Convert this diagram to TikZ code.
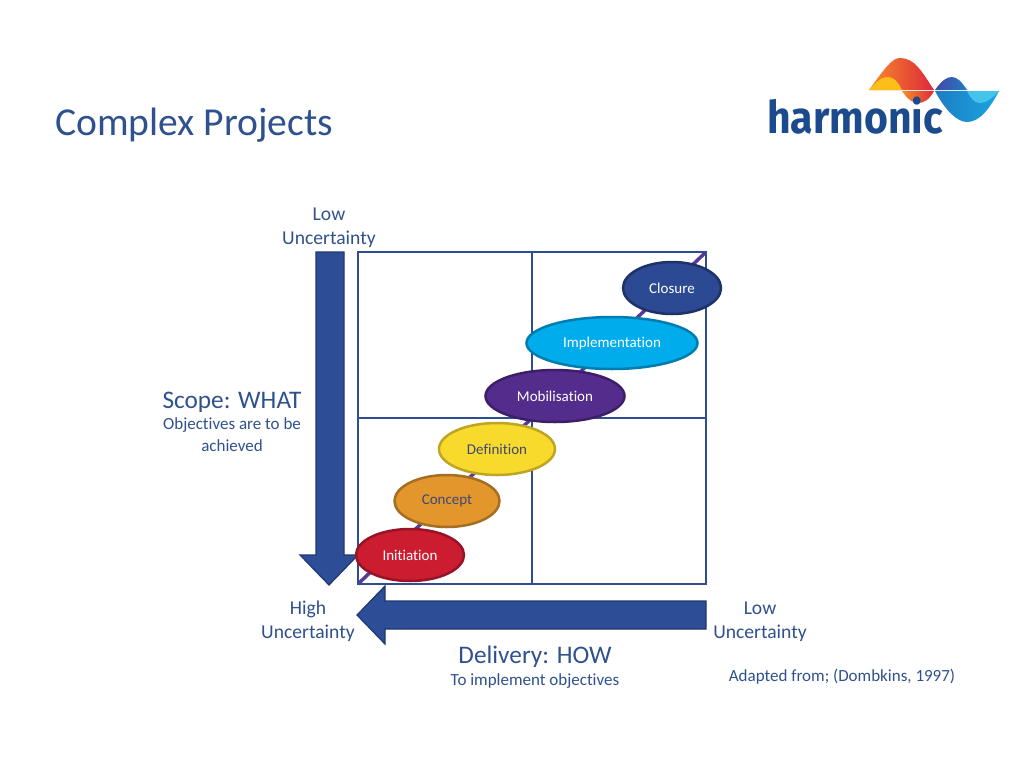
\documentclass[tikz,border=0pt]{standalone}
\usepackage{xcolor}
\usepackage{fontspec}
\setmainfont[Ligatures=NoCommon]{Carlito}
\newfontfamily\logofont{Fira Sans}
\usepackage{tikz}
\usetikzlibrary{positioning, arrows.meta, shapes.geometric}
\definecolor{titleblue}{RGB}{47, 82, 143}
\definecolor{gridblue}{RGB}{47, 77, 145}
\definecolor{arrowblue}{RGB}{45, 78, 150}
\definecolor{arrowedge}{RGB}{31, 56, 112}
\definecolor{linepurple}{RGB}{88, 58, 150}
\definecolor{logoblue}{RGB}{27, 75, 140}
\definecolor{darklabel}{RGB}{62, 72, 120}
\definecolor{initred}{RGB}{204, 28, 48}
\definecolor{initedge}{RGB}{150, 20, 40}
\definecolor{conceptorange}{RGB}{226, 150, 44}
\definecolor{conceptedge}{RGB}{165, 110, 35}
\definecolor{defyellow}{RGB}{248, 218, 44}
\definecolor{defedge}{RGB}{190, 165, 35}
\definecolor{mobpurple}{RGB}{84, 44, 140}
\definecolor{mobedge}{RGB}{60, 30, 105}
\definecolor{implcyan}{RGB}{0, 172, 236}
\definecolor{impledge}{RGB}{0, 125, 175}
\definecolor{closeblue}{RGB}{44, 74, 148}
\definecolor{closeedge}{RGB}{30, 50, 105}
\definecolor{waveorange}{RGB}{246, 140, 40}
\definecolor{wavered}{RGB}{222, 40, 60}
\definecolor{waveyellow}{RGB}{253, 190, 25}
\definecolor{waveindigo}{RGB}{70, 70, 165}
\definecolor{wavemid}{RGB}{30, 125, 195}
\definecolor{wavesky}{RGB}{25, 165, 225}
\definecolor{wavelight}{RGB}{70, 195, 235}
\tikzset{
    uncertainty/.style={font=\fontsize{19.6}{24}\selectfont, text=titleblue, align=center},
    axistitle/.style={font=\fontsize{25.3}{28}\selectfont, text=titleblue, align=center},
    axisnote/.style={font=\fontsize{17}{22}\selectfont, text=titleblue, align=center},
    phase/.style={ellipse, line width=2.5pt, inner sep=0pt, font=\fontsize{15}{16}\selectfont},
    bigarrow/.style={fill=arrowblue, draw=arrowedge, line width=1.2pt, line join=miter},
}

\begin{document}
\begin{tikzpicture}[x=1pt, y=-1pt]
    \useasboundingbox (0,0) rectangle (1024,768);
    \fill[white] (0,0) rectangle (1024,768);
    % Title
    \node[font=\fontsize{39.6}{40}\selectfont, text=titleblue, anchor=base west, inner sep=0pt] (title) at (55,135) {Complex Projects};
    % Logo waves
    \shade[left color=waveorange, right color=wavered] (869,90) .. controls (885,68) and (892,58) .. (900,58) .. controls (915,58) and (922,72) .. (934,90) -- cycle;
    \fill[waveyellow] (869,90) .. controls (878,80) and (882,77) .. (887,77) .. controls (893,77) and (897,80) .. (902,90) -- cycle;
    \shade[left color=waveorange, right color=wavered] (902,91) .. controls (908,100) and (913,103) .. (918,103) .. controls (924,103) and (929,100) .. (934,91) -- cycle;
    \shade[left color=waveindigo, right color=wavemid] (935,90) .. controls (942,80) and (947,77) .. (952,77) .. controls (957,77) and (962,82) .. (967,90) -- cycle;
    \shade[left color=wavemid, right color=wavesky] (935,91) .. controls (945,110) and (957,122) .. (967,122) .. controls (980,122) and (990,108) .. (999,91) -- cycle;
    \fill[wavelight] (967,91) .. controls (971,99) and (975,103) .. (980,103) .. controls (985,103) and (992,99) .. (999,91) -- cycle;
    \node[font=\logofont\bfseries\fontsize{45}{45}\selectfont, text=logoblue, anchor=base west, inner sep=0pt] (logo) at (767,133) {\scalebox{0.91}[1]{harmonic}};
    % Grid
    \coordinate (gridtl) at (358,252);
    \coordinate (gridbr) at (706,584);
    \coordinate (gridtm) at (532,252);
    \coordinate (gridbm) at (532,584);
    \coordinate (gridml) at (358,418);
    \coordinate (gridmr) at (706,418);
    \coordinate (gridtr) at (706,252);
    \coordinate (gridbl) at (358,584);
    \draw[linepurple, line width=3.5pt] (gridbl) -- (gridtr);
    \draw[gridblue, line width=2.5pt] (gridtl) rectangle (gridbr);
    \draw[gridblue, line width=2.5pt] (gridtm) -- (gridbm);
    \draw[gridblue, line width=2.5pt] (gridml) -- (gridmr);
    % Scope and delivery arrows
    \draw[bigarrow] (316,252) -- (344,252) -- (344,555) -- (358,555) -- (329,585) -- (300,555) -- (316,555) -- cycle;
    \draw[bigarrow] (706,601) -- (706,629) -- (385,629) -- (385,644) -- (357,615) -- (385,586) -- (385,601) -- cycle;
    % Project phases
    \foreach \name/\x/\y/\w/\fc/\dc/\tc/\lab in {
        initiation/410/555/108/initred/initedge/white/Initiation,
        concept/447/501/105/conceptorange/conceptedge/darklabel/Concept,
        definition/497/449/116/defyellow/defedge/darklabel/Definition,
        mobilisation/555/396/139/mobpurple/mobedge/white/Mobilisation,
        implementation/612/343/171/implcyan/impledge/white/Implementation,
        closure/672/288/98/closeblue/closeedge/white/Closure} {
        \node[phase, fill=\fc, draw=\dc, text=\tc, minimum width=\w pt, minimum height=52pt] (\name) at (\x,\y) {\lab};
    }
    % Labels
    \node[uncertainty] (lowtop) at (329,228) {Low\\Uncertainty};
    \node[uncertainty] (highleft) at (308,621) {High\\Uncertainty};
    \node[uncertainty] (lowright) at (760,622) {Low\\Uncertainty};
    \node[axistitle] (scope) at (232,402) {Scope: WHAT};
    \node[axisnote] (scopenote) at (232,435) {Objectives are to be\\achieved};
    \node[axistitle] (delivery) at (535,657) {Delivery: HOW};
    \node[axisnote] (deliverynote) at (535,681) {To implement objectives};
    \node[axisnote] (source) at (842,677) {Adapted from; (Dombkins, 1997)};
\end{tikzpicture}
\end{document}
